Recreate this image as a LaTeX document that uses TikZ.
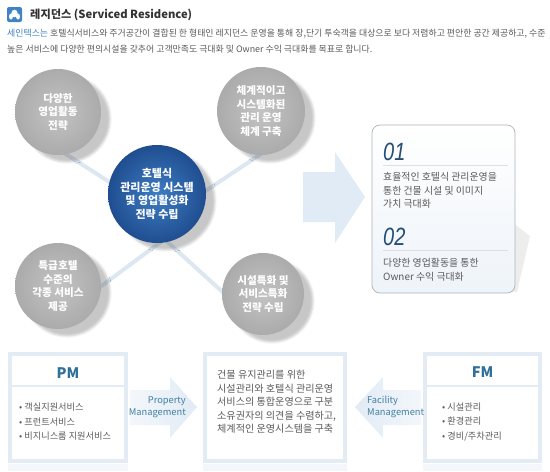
\documentclass[tikz,border=0pt]{standalone}
\usepackage{fontspec}
\setmainfont{Noto Sans CJK KR}
\newfontfamily\numfont[FakeStretch=0.8]{Liberation Sans}
\usetikzlibrary{shadows.blur}

\definecolor{titlegray}{HTML}{333333}
\definecolor{textgray}{HTML}{5A5A5A}
\definecolor{leadblue}{HTML}{3F82C6}
\definecolor{linkblue}{HTML}{DCE7F1}
\definecolor{arrowblue}{HTML}{E1EBF5}
\definecolor{frameblue}{HTML}{E3ECF5}
\definecolor{headblue}{HTML}{2E7099}
\definecolor{numblue}{HTML}{244E78}
\definecolor{ballin}{HTML}{C3C3C3}
\definecolor{ballout}{HTML}{ABABAB}
\definecolor{hubin}{HTML}{3E7DC3}
\definecolor{hubout}{HTML}{1F4E90}

\begin{document}
\begin{tikzpicture}[x=1pt, y=-1pt,
    every node/.style={text=textgray},
    link/.style={draw=linkblue, line width=4pt},
    ball/.style={circle, shading=radial, inner color=ballin, outer color=ballout,
      text=white, align=center, inner sep=0pt,
      font=\fontsize{10.6}{13.5}\selectfont\bfseries,
      blur shadow={shadow xshift=9pt, shadow yshift=-7pt, shadow opacity=22}},
    hub/.style={ball, inner color=hubin, outer color=hubout,
      font=\fontsize{11}{13.5}\selectfont\bfseries},
    bigarrow/.style={fill=arrowblue},
    body/.style={align=left, inner sep=0pt, font=\fontsize{9.9}{13.6}\selectfont},
    num/.style={inner sep=0pt, text=numblue, font=\fontsize{25}{25}\numfont\itshape},
    sep/.style={draw=gray!25, line width=0.6pt},
    mbox/.style={rectangle, draw=frameblue, line width=4pt, fill=white},
    mhead/.style={text=headblue, font=\fontsize{14.5}{16}\selectfont\bfseries},
    mlabel/.style={inner sep=0pt, text=headblue!90, font=\fontsize{9.3}{12}\selectfont},
    items/.style={align=left, inner sep=0pt, font=\fontsize{9.2}{14.5}\selectfont}
  ]
  \useasboundingbox (0,0) rectangle (550,472);

  % Header
  \node[fill=leadblue, rounded corners=2pt, minimum size=15pt, inner sep=0pt] (icon) at (14.5,14.5) {};
  \fill[white] ([yshift=1]icon.center) ellipse (3.2 and 3.8);
  \fill[white] ([shift={(-3.5,2)}]icon.center) ellipse (2 and 3);
  \fill[white] ([shift={(3.5,2)}]icon.center) ellipse (2 and 3);
  \node[anchor=west, inner sep=0pt, text=titlegray,
    font=\fontsize{11.2}{13}\selectfont\bfseries] (title) at (30,15) {레지던스 (Serviced Residence)};
  \node[anchor=west, inner sep=0pt, font=\fontsize{8.9}{10}\selectfont] (lead1) at (7,34)
    {\textcolor{leadblue}{세인텍스는} 호텔식서비스와 주거공간이 결합된 한 형태인 레지던스 운영을 통해 장,단기 투숙객을 대상으로 보다 저렴하고 편안한 공간 제공하고, 수준};
  \node[anchor=west, inner sep=0pt, font=\fontsize{8.9}{10}\selectfont] (lead2) at (7,49)
    {높은 서비스에 다양한 편의시설을 갖추어 고객만족도 극대화 및 Owner 수익 극대화를 목표로 합니다.};

  % Strategy circles
  \coordinate (hubpos) at (157,194);
  \coordinate (tlpos) at (58,112);
  \coordinate (trpos) at (261,111);
  \coordinate (blpos) at (58,286);
  \coordinate (brpos) at (263,294);

  \draw[link] ([shift={(-7,14)}]hubpos) -- ([shift={(-8,32)}]tlpos);
  \draw[link] ([shift={(8,24)}]hubpos) -- ([shift={(9,37)}]trpos);
  \draw[link] ([shift={(13,41)}]hubpos) -- ([shift={(22,16)}]blpos);
  \draw[link] ([shift={(-7,32)}]hubpos) -- ([shift={(-13,23)}]brpos);

  \node[ball, minimum size=86pt] (tl) at (tlpos) {다양한\\영업활동\\전략};
  \node[ball, minimum size=88pt] (tr) at (trpos) {체계적이고\\시스템화된\\관리 운영\\체계 구축};
  \node[ball, minimum size=86pt] (bl) at (blpos) {특급호텔\\수준의\\각종 서비스\\제공};
  \node[ball, minimum size=82pt] (br) at (brpos) {시설특화 및\\서비스특화\\전략 수립};
  \node[hub, minimum size=98pt] (hub) at (hubpos) {호텔식\\관리운영 시스템\\및 영업활성화\\전략 수립};

  % Result arrow and goals
  \fill[bigarrow] (303,172) -- (335,172) -- (335,152) -- (365,197)
    -- (335,243) -- (335,222) -- (303,222) -- cycle;
  \fill[gray!14] (512,222) -- (530,236) -- (517,292) -- (512,292) -- cycle;
  \node[rectangle, rounded corners=8pt, draw=gray!35!frameblue!90!black, line width=0.7pt,
    top color=white, bottom color=frameblue!60, minimum width=143pt, minimum height=168pt]
    (goal) at (443.5,209) {};

  \node[num, anchor=west] (n1) at (383,152) {01};
  \draw[sep] (383,165) -- (508,165);
  \node[body, anchor=west] (g1) at (383,190.5) {효율적인 호텔식 관리운영을\\통한 건물 시설 및 이미지\\가치 극대화};
  \node[num, anchor=west] (n2) at (383,237) {02};
  \draw[sep] (383,250) -- (508,250);
  \node[body, anchor=west] (g2) at (383,270) {다양한 영업활동을 통한\\Owner 수익 극대화};

  % PM / FM
  \fill[frameblue!45] (8,464) rectangle (128,471);
  \fill[frameblue!45] (203,464) rectangle (347,471);
  \fill[frameblue!45] (423,464) rectangle (542,471);

  \node[mbox, minimum width=116pt, minimum height=107pt] (pm) at (68,407.5) {};
  \node[mbox, minimum width=140pt, minimum height=107pt] (core) at (275,407.5) {};
  \node[mbox, minimum width=115pt, minimum height=107pt] (fm) at (482.5,407.5) {};

  \node[mhead] (pmhead) at (68,373) {PM};
  \draw[frameblue, line width=1.5pt] (10,386) -- (126,386);
  \node[items, anchor=west] (pmitems) at (19,422) {• 객실지원서비스\\• 프런트서비스\\• 비지니스룸 지원서비스};

  \node[mhead] (fmhead) at (482.5,372) {FM};
  \draw[frameblue, line width=1.5pt] (425,386) -- (540,386);
  \node[items, anchor=west] (fmitems) at (442,422) {• 시설관리\\• 환경관리\\• 경비/주차관리};

  \node[body, anchor=west, font=\fontsize{10.1}{13.6}\selectfont] (coretext) at (217,402)
    {건물 유지관리를 위한\\시설관리와 호텔식 관리운영\\서비스의 통합운영으로 구분\\소유권자의 의견을 수렴하고,\\체계적인 운영시스템을 구축};

  \shade[left color=arrowblue!40, right color=arrowblue] (130,390) -- (170,390) -- (170,377)
    -- (197,407) -- (170,438) -- (170,425) -- (130,425) -- cycle;
  \shade[right color=arrowblue!40, left color=arrowblue] (421,390) -- (383,390) -- (383,377)
    -- (355,407) -- (383,438) -- (383,425) -- (421,425) -- cycle;
  \node[mlabel, align=right, anchor=east] (pmlabel) at (186,407) {Property\\Management};
  \node[mlabel, align=left, anchor=west] (fmlabel) at (367,407) {Facility\\Management};
\end{tikzpicture}
\end{document}
